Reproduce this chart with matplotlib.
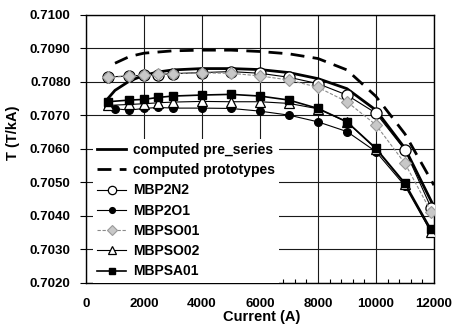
import matplotlib
matplotlib.use("Agg")
import matplotlib.pyplot as plt
from matplotlib.ticker import MultipleLocator, FormatStrFormatter

plt.rcParams['font.family'] = ['Liberation Sans', 'DejaVu Sans']
plt.rcParams['font.weight'] = 'bold'

# datos
corriente = [750, 1500, 2000, 2500, 3000, 4000, 5000, 6000, 7000, 8000, 9000, 10000, 11000, 11900]
corriente_o1 = [750, 1000, 1500, 2000, 2500, 3000, 4000, 5000, 6000, 7000, 8000, 9000, 10000, 11000, 11900]
corriente_pre = [750, 1000, 1500, 2000, 2500, 3000, 4000, 5000, 6000, 7000, 8000, 9000, 10000, 11000, 12000]
corriente_proto = [1000, 1500, 2000, 3000, 4000, 5000, 6000, 7000, 8000, 9000, 10000, 11000, 12000]

pre_series = [0.70750, 0.70775, 0.70803, 0.70820, 0.70830, 0.70836, 0.70840, 0.70840,
              0.70837, 0.70828, 0.70810, 0.70780, 0.70716, 0.70602, 0.70428]
prototypes = [0.70856, 0.70876, 0.70886, 0.70893, 0.70895, 0.70895, 0.70891, 0.70884,
              0.70870, 0.70836, 0.70757, 0.70645, 0.70492]
mbp2n2 = [0.70815, 0.70818, 0.70820, 0.70822, 0.70825, 0.70828, 0.70831, 0.70826,
          0.70814, 0.70795, 0.70761, 0.70707, 0.70597, 0.70425]
mbp2o1 = [0.70728, 0.70720, 0.70716, 0.70721, 0.70724, 0.70722, 0.70722, 0.70721,
          0.70713, 0.70701, 0.70681, 0.70652, 0.70592, 0.70490, 0.70352]
mbpso01 = [0.70814, 0.70817, 0.70821, 0.70823, 0.70825, 0.70827, 0.70826, 0.70818,
           0.70806, 0.70784, 0.70741, 0.70672, 0.70557, 0.70413]
mbpso02 = [0.70730, 0.70733, 0.70735, 0.70738, 0.70740, 0.70742, 0.70741, 0.70741,
           0.70736, 0.70720, 0.70681, 0.70600, 0.70495, 0.70352]
mbpsa01 = [0.70741, 0.70746, 0.70748, 0.70754, 0.70758, 0.70761, 0.70763, 0.70758,
           0.70746, 0.70721, 0.70681, 0.70602, 0.70498, 0.70360]

fig = plt.figure(figsize=(4.56, 3.27), dpi=100)
ax = fig.add_axes([0.1886, 0.1346, 0.763, 0.8196])

ax.plot(corriente_pre, pre_series, color='black', lw=2.0, label='computed pre_series', zorder=3)
ax.plot(corriente_proto, prototypes, color='black', lw=2.0, ls=(0, (5, 3)), label='computed prototypes', zorder=3)
ax.plot(corriente, mbp2n2, color='black', lw=0.8, marker='o', ms=8, mfc='white', mec='black',
        mew=0.9, label='MBP2N2', zorder=4)
ax.plot(corriente_o1, mbp2o1, color='black', lw=0.8, marker='o', ms=5.5, mfc='black', mec='black',
        label='MBP2O1', zorder=4)
ax.plot(corriente, mbpso01, color='#8a8a8a', lw=0.8, ls=(0, (3, 1.5)), marker='D', ms=6.5,
        mfc='#c8c8c8', mec='#9a9a9a', mew=0.8, label='MBPSO01', zorder=5)
ax.plot(corriente, mbpso02, color='black', lw=0.8, marker='^', ms=7, mfc='white', mec='black',
        mew=0.9, label='MBPSO02', zorder=5)
ax.plot(corriente, mbpsa01, color='black', lw=1.2, marker='s', ms=5.5, mfc='black', mec='black',
        label='MBPSA01', zorder=6)

ax.set_xlim(0, 12000)
ax.set_ylim(0.7020, 0.7100)
ax.xaxis.set_major_locator(MultipleLocator(2000))
ax.xaxis.set_minor_locator(MultipleLocator(400))
ax.yaxis.set_major_locator(MultipleLocator(0.001))
ax.yaxis.set_major_formatter(FormatStrFormatter('%.4f'))
ax.grid(True, which='major', color='#1a1a1a', lw=0.8)
ax.set_axisbelow(True)

ax.tick_params(axis='x', which='major', length=0, pad=11, labelsize=9.5)
ax.tick_params(axis='x', which='minor', direction='in', length=3, width=0.8)
ax.tick_params(axis='y', which='major', direction='out', length=4, pad=7, labelsize=9.5)
for s in ax.spines.values():
    s.set_linewidth(1.0)

ax.set_xlabel('Current (A)', fontsize=10.5, fontweight='bold')
ax.set_ylabel('T (T/kA)', fontsize=10.5, fontweight='bold')
ax.xaxis.set_label_coords(0.506, -0.1)
ax.yaxis.set_label_coords(-0.19, 0.56)

leg = ax.legend(loc='upper left', bbox_to_anchor=(0.02, 0.538), borderaxespad=0, fontsize=10,
                frameon=True, handlelength=2.1, labelspacing=0.45, handletextpad=0.5,
                borderpad=0.3, fancybox=False, markerscale=0.75)
leg.get_frame().set_edgecolor('none')
leg.get_frame().set_facecolor('white')
leg.get_frame().set_alpha(1)

fig.savefig('out.png', dpi=100)
